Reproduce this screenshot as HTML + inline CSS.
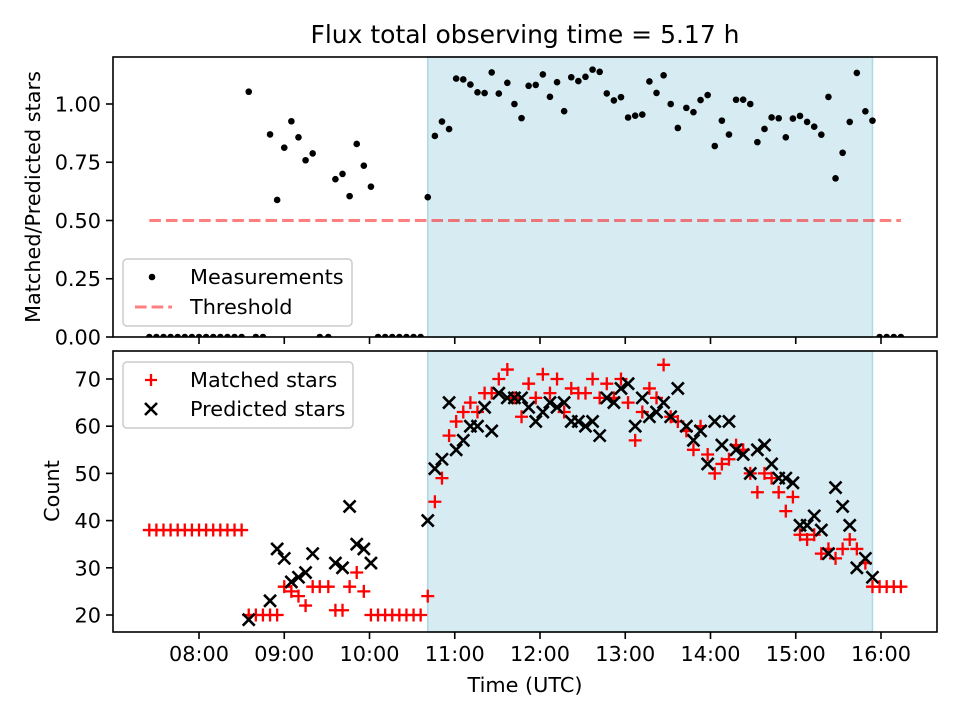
<!DOCTYPE html>
<html><head><meta charset="utf-8"><style>
html,body{margin:0;padding:0;background:#fff}
svg{display:block;font-family:"DejaVu Sans","Liberation Sans",sans-serif}
</style></head><body>
<svg id="chart" width="960" height="720" viewBox="0 0 960 720" xmlns="http://www.w3.org/2000/svg">
<text x="525" y="43" font-size="25" text-anchor="middle" fill="#000">Flux total observing time = 5.17 h</text>
<g id="topPanel"></g>
<g id="botPanel"></g>
<text transform="translate(40,197) rotate(-90)" font-size="20.8" text-anchor="middle">Matched/Predicted stars</text>
<text transform="translate(59,491) rotate(-90)" font-size="20.8" text-anchor="middle">Count</text>
<text x="525" y="692" font-size="20.8" text-anchor="middle">Time (UTC)</text>
</svg>
<script>
// times in minutes since midnight (UTC)
const times = [445,450,455,460,465,470,475,480,485,490,495,500,505,510,515,520,525,530,535,540,545,550,555,560,565,
571,576,581,586,591,596,601,606,611,616,621,626,631,636,641,646,651,656,661,666,671,676,681,686,691,
697,702,707,712,717,722,727,732,737,742,747,752,757,762,767,772,777,782,787,792,797,802,807,812,817,
823,828,833,838,843,848,853,858,863,868,873,878,883,888,893,898,903,908,913,918,923,928,933,938,943,
949,954,959,964,969,974];
const matched = [38,38,38,38,38,38,38,38,38,38,38,38,38,38,
20,20,20,20,20,26,25,24,22,26,26,26,21,21,26,29,25,20,
20,20,20,20,20,20,20,
24,44,49,58,61,63,65,63,67,67,70,72,66,62,69,66,71,67,70,63,68,67,67,70,66,69,66,70,65,57,63,68,66,73,62,61,
59,55,60,54,50,52,53,56,55,50,46,50,49,46,42,45,37,36,37,33,34,32,34,36,34,31,26,26,26,26,26];
const predicted = [null,null,null,null,null,null,null,null,null,null,null,null,null,null,
19,null,null,23,34,32,27,28,29,33,null,null,31,30,43,35,34,31,
null,null,null,null,null,null,null,
40,51,53,65,55,57,60,60,64,59,67,66,66,66,64,61,63,65,64,65,61,61,60,61,58,66,65,68,69,60,66,62,63,65,62,68,
60,57,59,52,61,56,61,55,54,50,55,56,52,49,49,48,39,39,41,38,33,47,43,39,30,32,28,null,null,null,null];
const threshold = [0.5];
const shadeRange = [641, 954];
const xTickLabels = ["08:00","09:00","10:00","11:00","12:00","13:00","14:00","15:00","16:00"];
const xTickMinutes = [480,540,600,660,720,780,840,900,960];
const topTickValues = [0,0.25,0.5,0.75,1.0];
const topTickLabels = ["0.00","0.25","0.50","0.75","1.00"];
const botTickValues = [20,30,40,50,60,70];
const botTickLabels = ["20","30","40","50","60","70"];

const NS="http://www.w3.org/2000/svg";
const L=113,R=937, T1=57,B1=337, T2=351,B2=632;
const xMin=6.991*60, xMax=16.657*60;
function xs(m){return L+(m-xMin)/(xMax-xMin)*(R-L);}
const t0=0,t1=1.2017;
function ysT(v){return B1-(v-t0)/(t1-t0)*(B1-T1);}
const b0=16.4,b1=75.93;
function ysB(v){return B2-(v-b0)/(b1-b0)*(B2-T2);}
function mk(tag,attrs,parent){const e=document.createElementNS(NS,tag);for(const k in attrs)e.setAttribute(k,attrs[k]);parent.appendChild(e);return e;}

const topG=document.getElementById('topPanel'), botG=document.getElementById('botPanel');
const defs=mk('defs',{},document.getElementById('chart'));
const c1=mk('clipPath',{id:'c1'},defs);mk('rect',{x:L,y:T1-5,width:R-L,height:B1-T1+5},c1);
const c2=mk('clipPath',{id:'c2'},defs);mk('rect',{x:L,y:T2,width:R-L,height:B2-T2},c2);

function drawShade(parent,T,B){
  const r=mk('rect',{x:xs(shadeRange[0]),y:T,width:xs(shadeRange[1])-xs(shadeRange[0]),height:B-T,fill:'#add8e6','fill-opacity':0.5,stroke:'#add8e6','stroke-width':1.5},parent);
  
  
}
drawShade(topG,T1,B1);
drawShade(botG,T2,B2);

const th=mk('line',{x1:xs(times[0]),x2:xs(times[times.length-1]),y1:ysT(threshold[0]),y2:ysT(threshold[0]),stroke:'#ff0000','stroke-opacity':0.5,'stroke-width':3,'stroke-dasharray':'11.6 5'},topG);



const gT=mk('g',{'clip-path':'url(#c1)'},topG);
for(let i=0;i<times.length;i++){
  const ratio = predicted[i]==null ? 0 : matched[i]/predicted[i];
  const d=mk('circle',{cx:xs(times[i]),cy:ysT(ratio),r:3.3,fill:'#000'},gT);
  
  
}

const gB=mk('g',{'clip-path':'url(#c2)'},botG);
for(let i=0;i<times.length;i++){
  const x=xs(times[i]),y=ysB(matched[i]);
  const p=mk('path',{d:`M${x-6.5},${y}H${x+6.5}M${x},${y-6.5}V${y+6.5}`,stroke:'#ff0000','stroke-width':2.3,fill:'none'},gB);
  
  
}
for(let i=0;i<times.length;i++){
  if(predicted[i]==null)continue;
  const x=xs(times[i]),y=ysB(predicted[i]),s=6;
  const p=mk('path',{d:`M${x-s},${y-s}L${x+s},${y+s}M${x-s},${y+s}L${x+s},${y-s}`,stroke:'#000','stroke-width':2.6,fill:'none'},gB);
  
  
}

function frame(parent,T,B){
  mk('rect',{x:L,y:T,width:R-L,height:B-T,fill:'none',stroke:'#000','stroke-width':1.6},parent);
  for(let i=0;i<xTickMinutes.length;i++){
    const x=xs(xTickMinutes[i]);
    mk('line',{x1:x,x2:x,y1:B,y2:B+7,stroke:'#000','stroke-width':1.6},parent);
  }
}
frame(topG,T1,B1);frame(botG,T2,B2);
for(let i=0;i<xTickLabels.length;i++){
  const t=mk('text',{x:xs(xTickMinutes[i]),y:B2+29,'font-size':20.8,'text-anchor':'middle'},botG);
  t.textContent=xTickLabels[i];
  
  
}
for(let i=0;i<topTickValues.length;i++){
  const y=ysT(topTickValues[i]);
  mk('line',{x1:L-7,x2:L,y1:y,y2:y,stroke:'#000','stroke-width':1.6},topG);
  const t=mk('text',{x:L-12,y:y+7.5,'font-size':20.8,'text-anchor':'end'},topG);
  t.textContent=topTickLabels[i];
  
  
}
for(let i=0;i<botTickValues.length;i++){
  const y=ysB(botTickValues[i]);
  mk('line',{x1:L-7,x2:L,y1:y,y2:y,stroke:'#000','stroke-width':1.6},botG);
  const t=mk('text',{x:L-12,y:y+7.5,'font-size':20.8,'text-anchor':'end'},botG);
  t.textContent=botTickLabels[i];
  
  
}

const lg1=mk('g',{},topG);


mk('rect',{x:123,y:259,width:229,height:67,rx:4,fill:'#fff','fill-opacity':0.8,stroke:'#ccc','stroke-width':1.5},lg1);
mk('circle',{cx:152,cy:277,r:3.3,fill:'#000'},lg1);
let tx=mk('text',{x:190,y:284,'font-size':20.8},lg1);tx.textContent='Measurements';
mk('line',{x1:135,x2:172,y1:307,y2:307,stroke:'#ff0000','stroke-opacity':0.5,'stroke-width':3,'stroke-dasharray':'11.6 5'},lg1);
tx=mk('text',{x:190,y:314,'font-size':20.8},lg1);tx.textContent='Threshold';

const lg2=mk('g',{},botG);


mk('rect',{x:123,y:362,width:230,height:66,rx:4,fill:'#fff','fill-opacity':0.8,stroke:'#ccc','stroke-width':1.5},lg2);
mk('path',{d:'M145,380H157M151,374V386',stroke:'#ff0000','stroke-width':2.3},lg2);
tx=mk('text',{x:190,y:387,'font-size':20.8},lg2);tx.textContent='Matched stars';
mk('path',{d:'M145,403L157,415M145,415L157,403',stroke:'#000','stroke-width':2.6},lg2);
tx=mk('text',{x:190,y:416,'font-size':20.8},lg2);tx.textContent='Predicted stars';
</script>
</body></html>
